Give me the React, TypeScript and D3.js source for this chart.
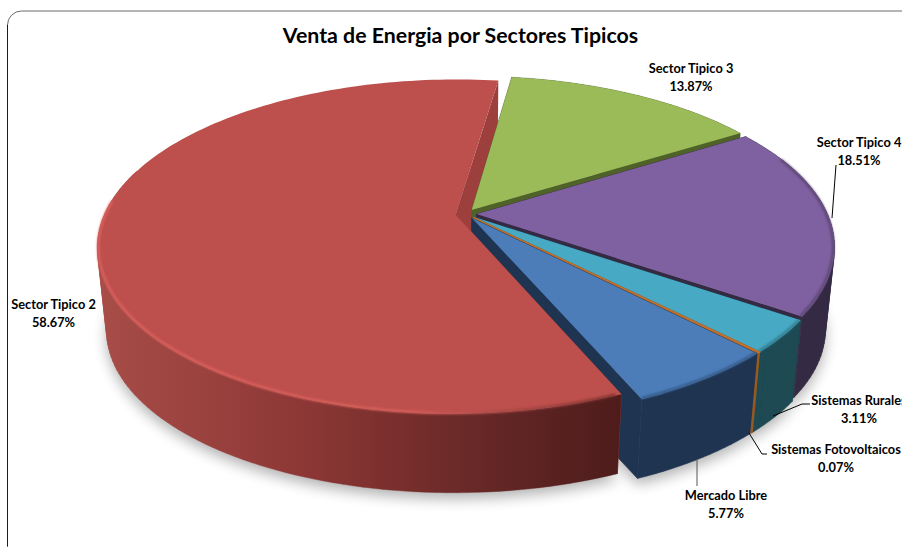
import React from 'react';
import * as d3 from 'd3';

// chart values, clockwise from the first slice
const sectors = ['Sector Tipico 3', 'Sector Tipico 4', 'Sistemas Rurales', 'Sistemas Fotovoltaicos', 'Mercado Libre', 'Sector Tipico 2'];
const shares = [13.87, 18.51, 3.11, 0.07, 5.77, 58.67];
const faceColors = ['#9bbb59', '#7f60a0', '#48a9c4', '#c0702c', '#4c7db9', '#bd4f4c'];
const sideColors = ['#4f6228', '#352a44', '#1e4a54', '#9a5a22', '#1e3450', '#9d3f3d'];
const wallColors = ['#4f6228', '#352a44', '#1e4a54', '#9a5a22', '#1e3450', 'url(#redWall)'];

const title = 'Venta de Energia por Sectores Tipicos';
const firstAngle = (8 * Math.PI) / 180;
const explode = 0.03;

// perspective used for the disc: plane coords (-1..1) to screen pixels
const originX = 466;
const originY = 214;
const radiusX = 351;
const radiusY = 160.8;
const persp = 0.191;
const depth = 84;
const bottomScale = 0.975;

type Pt = [number, number];

const project = (x: number, y: number, bottom: boolean): Pt => {
  const w = 1 / (1 - persp * y);
  const sx = radiusX * x * w;
  const sy = radiusY * y * w;
  if (!bottom) return [originX + sx, originY + sy];
  return [originX + sx * bottomScale, originY + depth + sy * bottomScale];
};

const line = d3.line<Pt>();

const pie = d3.pie<number>()
  .sort(null)
  .startAngle(firstAngle)
  .endAngle(firstAngle + 2 * Math.PI);

const arcs = pie(shares);

const sweep = (a0: number, a1: number) => {
  const n = Math.max(2, Math.ceil((a1 - a0) * 40));
  return d3.range(n + 1).map(i => a0 + ((a1 - a0) * i) / n);
};

const buildSlice = (a0: number, a1: number) => {
  const mid = (a0 + a1) / 2;
  const dx = explode * Math.sin(mid);
  const dy = -explode * Math.cos(mid);
  const rim = (bottom: boolean, list: number[], r = 1) =>
    list.map(a => project(dx + r * Math.sin(a), dy - r * Math.cos(a), bottom));
  const apex = project(dx, dy, false);
  const apexB = project(dx, dy, true);
  const angles = sweep(a0, a1);
  const top = rim(false, angles);
  const low = rim(true, angles);
  const last = angles.length - 1;
  return {
    face: line([apex, ...top])! + 'Z',
    // outer wall as one quad per step, all wound the same way so the fold at the sides stays filled
    outer: (to: number) => {
      const list = sweep(a0, Math.min(to, a1));
      const t = rim(false, list);
      const b = rim(true, list);
      return d3.range(list.length - 1).map(i => {
        const q: Pt[] = [t[i], t[i + 1], b[i + 1], b[i]];
        if (d3.polygonArea(q) < 0) q.reverse();
        return line(q)! + 'Z';
      }).join('');
    },
    startWall: line([apex, top[0], low[0], apexB])! + 'Z',
    endWall: line([apex, top[last], low[last], apexB])! + 'Z',
    bottom: line([apexB, ...low])! + 'Z',
    rimPart: (from: number, to: number, r = 1) => {
      const lo = Math.max(from, a0);
      const hi = Math.min(to, a1);
      if (hi <= lo) return '';
      return line(rim(false, sweep(lo, hi), r))!;
    },
  };
};

const slices = arcs.map(a => buildSlice(a.startAngle, a.endAngle));
const red = slices[5];

// label placement, centre x and first baseline
const labelAnchors: Pt[] = [[691, 73], [859, 147], [859, 405], [836, 454], [726, 500], [53.5, 309]];
const leaders = [
  'M836 165L832 218',
  'M810 404L802 404L773 416',
  'M749 433L762 454L767 454',
  'M697 460L697 486',
];

const font = 'Lato, "Open Sans", sans-serif';
const pct = d3.format('.2f');

export default function App() {
  return (
    <svg
      width={902}
      height={547}
      viewBox="0 0 902 547"
      style={{ position: 'absolute', left: 0, top: 0, display: 'block', background: '#fff' }}
    >
      <defs>
        <linearGradient id="redWall" gradientUnits="userSpaceOnUse" x1={97} x2={620} y1={0} y2={0}>
          <stop offset="0" stopColor="#a84d48" />
          <stop offset="0.4" stopColor="#8c3735" />
          <stop offset="0.6" stopColor="#762e2c" />
          <stop offset="0.8" stopColor="#5f2524" />
          <stop offset="1" stopColor="#4e1c1b" />
        </linearGradient>
        <linearGradient id="redRim" gradientUnits="userSpaceOnUse" x1={97} x2={620} y1={0} y2={0}>
          <stop offset="0" stopColor="#dc605c" />
          <stop offset="0.6" stopColor="#d65f5a" />
          <stop offset="0.78" stopColor="#a84845" />
          <stop offset="1" stopColor="#7a3230" />
        </linearGradient>
        <filter id="soft" x="-20%" y="-20%" width="140%" height="140%">
          <feGaussianBlur stdDeviation="7" />
        </filter>
        <filter id="edge" x="-5%" y="-5%" width="110%" height="110%">
          <feGaussianBlur stdDeviation="0.8" />
        </filter>
      </defs>

      <rect x={7.5} y={11} width={1000} height={600} rx={14} fill="#fff" stroke="#6a6a6a" strokeWidth={1} />
      <path d="M7.5 25V546" stroke="#1c1c1c" strokeWidth={1} />

      <text
        x={460.5}
        y={42.5}
        textAnchor="middle"
        fontFamily={font}
        fontSize={21.3}
        fontWeight={700}
        fill="#000"
      >
        {title}
      </text>

      <g filter="url(#soft)" opacity={0.3} transform="translate(0,6)">
        {slices.map((s, i) => <path key={i} d={s.bottom} fill="#000" />)}
      </g>

      {/* inner wall of the big slice sits behind everything else */}
      <path d={red.endWall} fill={sideColors[5]} />

      {slices.map((s, i) => (
        <g key={sectors[i]}>
          <path d={s.startWall} fill={sideColors[i]} stroke={sideColors[i]} strokeWidth={0.6} />
          {i < 5 && <path d={s.endWall} fill={sideColors[i]} stroke={sideColors[i]} strokeWidth={0.6} />}
          <path d={s.outer(i === 5 ? 5 : 9)} fill={wallColors[i]} stroke={wallColors[i]} strokeWidth={0.4} />
          <path d={s.face} fill={faceColors[i]} stroke={i === 3 ? faceColors[i] : 'none'} strokeWidth={1.4} />
          {i < 5 && i !== 3 && (
            <path
              d={s.rimPart(1.2, 3.2, 0.996)}
              fill="none"
              stroke={d3.interpolateRgb(faceColors[i], sideColors[i])(0.5)}
              strokeWidth={2.4}
              filter="url(#edge)"
            />
          )}
          {i === 5 && (
            <path
              d={s.rimPart(2.75, 4.8, 0.997)}
              fill="none"
              stroke="url(#redRim)"
              strokeWidth={2.6}
              filter="url(#edge)"
            />
          )}
        </g>
      ))}

      {leaders.map((d, i) => (
        <path key={i} d={d} fill="none" stroke={i === 3 ? '#555' : '#000'} strokeWidth={1} />
      ))}

      {sectors.map((name, i) => (
        <text
          key={name}
          x={labelAnchors[i][0]}
          y={labelAnchors[i][1]}
          textAnchor="middle"
          fontFamily={font}
          fontSize={12.8}
          fontWeight={700}
          fill="#000"
        >
          <tspan x={labelAnchors[i][0]}>{name}</tspan>
          <tspan x={labelAnchors[i][0]} dy={17.5}>{pct(shares[i])}%</tspan>
        </text>
      ))}
    </svg>
  );
}
